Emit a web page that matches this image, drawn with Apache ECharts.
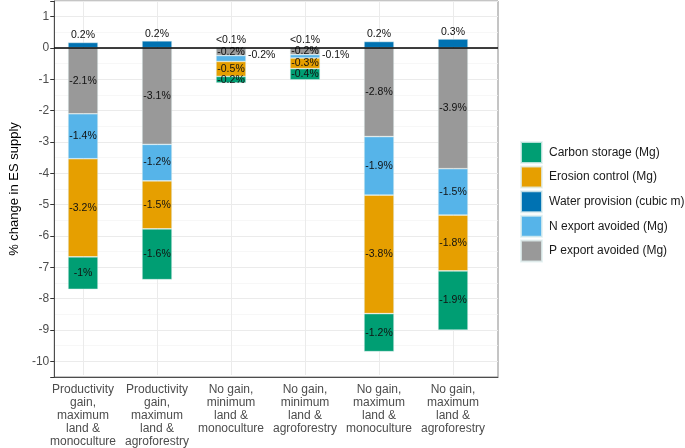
<!DOCTYPE html>
<html>
<head>
<meta charset="utf-8">
<script src="https://cdn.jsdelivr.net/npm/echarts@6/dist/echarts.min.js"></script>
<style>
html,body{margin:0;padding:0;background:#fff;}
#main{width:685px;height:448px;}
</style>
</head>
<body>
<div id="main"></div>
<script>
//scenarios
var categories = ['Productivity\ngain,\nmaximum\nland &\nmonoculture', 'Productivity\ngain,\nmaximum\nland &\nagroforestry',
	'No gain,\nminimum\nland &\nmonoculture', 'No gain,\nminimum\nland &\nagroforestry',
	'No gain,\nmaximum\nland &\nmonoculture', 'No gain,\nmaximum\nland &\nagroforestry'];

//% change per service
var pExport = [-2.12, -3.10, -0.25, -0.22, -2.85, -3.88];
var nExport = [-1.44, -1.17, -0.19, -0.11, -1.88, -1.49];
var erosion = [-3.15, -1.54, -0.48, -0.34, -3.80, -1.79];
var carbon = [-1.04, -1.63, -0.21, -0.36, -1.22, -1.90];
var water = [0.17, 0.22, 0.02, 0.02, 0.20, 0.28];

//printed labels
var pLabels = ['-2.1%', '-3.1%', '-0.2%', '-0.2%', '-2.8%', '-3.9%'];
var nLabels = ['-1.4%', '-1.2%', '-0.2%', '-0.1%', '-1.9%', '-1.5%'];
var eLabels = ['-3.2%', '-1.5%', '-0.5%', '-0.3%', '-3.8%', '-1.8%'];
var cLabels = ['-1%', '-1.6%', '-0.2%', '-0.4%', '-1.2%', '-1.9%'];
var wLabels = ['0.2%', '0.2%', '<0.1%', '<0.1%', '0.2%', '0.3%'];

var names = ['Carbon storage (Mg)', 'Erosion control (Mg)', 'Water provision (cubic m)', 'N export avoided (Mg)', 'P export avoided (Mg)'];

var yMin = -10.5, yMax = 1.5;

var chart = echarts.init(document.getElementById('main'));

function barSeries(name, values, labels, color, pos){
	return {
		name: name,
		type: 'bar',
		xAxisIndex: 1,
		yAxisIndex: 2,
		stack: 'es',
		barWidth: 30,
		itemStyle: {color: color, borderColor: 'rgba(225,240,240,0.8)', borderWidth: 0.6},
		label: {
			show: true,
			position: pos,
			distance: 1.5,
			fontSize: 10.5,
			color: '#111',
			fontFamily: 'Liberation Sans, Arial, sans-serif',
			formatter: function(p){ return labels[p.dataIndex]; }
		},
		data: values.slice()
	};
}

var nSeries = barSeries(names[3], nExport, nLabels, '#56B4E9', 'inside');
//small N segments labelled beside the bar
nSeries.data[2] = {value: nExport[2], label: {position: 'right', distance: 2, offset: [0, -3]}};
nSeries.data[3] = {value: nExport[3], label: {position: 'right', distance: 2, offset: [0, -1.5]}};

var option = {
	animation: false,
	textStyle: {fontFamily: 'Liberation Sans, Arial, sans-serif'},
	grid: [
		{left: 40, right: 187, top: 1, bottom: 71, show: true, borderColor: '#8a8a8a', borderWidth: 1},
		{left: 46, right: 195, top: 1, bottom: 71}
	],
	legend: {
		orient: 'vertical',
		left: 515,
		top: 136,
		itemWidth: 21,
		itemHeight: 21,
		itemGap: 1.6,
		icon: 'rect',
		data: names,
		textStyle: {fontSize: 12, color: '#1a1a1a', padding: [0, 0, 0, 2]}
	},
	xAxis: [
		{
			type: 'value', gridIndex: 0, min: 0, max: 1,
			axisLine: {show: true, onZero: false, lineStyle: {color: '#4d4d4d', width: 1}},
			axisTick: {show: false}, axisLabel: {show: false}, splitLine: {show: false}
		},
		{
			type: 'category', gridIndex: 1, data: categories,
			axisLine: {show: false},
			axisTick: {show: true, alignWithLabel: true, length: 4, lineStyle: {color: '#333'}},
			axisLabel: {interval: 0, fontSize: 12, lineHeight: 13, color: '#4d4d4d', margin: 8},
			splitLine: {show: true, alignWithLabel: true, lineStyle: {color: '#ebebeb', width: 1}}
		}
	],
	yAxis: [
		{
			//minor grid
			type: 'value', gridIndex: 0, position: 'left', min: yMin, max: yMax, interval: 0.5,
			axisLine: {show: false}, axisTick: {show: false}, axisLabel: {show: false},
			splitLine: {show: true, lineStyle: {color: '#f4f4f4', width: 0.7}}
		},
		{
			//major grid + labels
			type: 'value', gridIndex: 0, position: 'left', offset: 0,
			min: yMin, max: yMax, splitNumber: 12, minInterval: 1, maxInterval: 1,
			name: '% change in ES supply',
			nameLocation: 'middle',
			nameRotate: 90,
			nameGap: 26,
			nameTextStyle: {fontSize: 13, color: '#000'},
			axisLine: {show: true, onZero: false, lineStyle: {color: '#4d4d4d', width: 1}},
			axisTick: {show: true, length: 4, lineStyle: {color: '#333'}},
			axisLabel: {
				fontSize: 12, color: '#4d4d4d', margin: 5,
				formatter: function(v){ return Math.round(v) === v ? String(v) : ''; }
			},
			splitLine: {show: true, lineStyle: {color: '#ebebeb', width: 1}}
		},
		{
			type: 'value', gridIndex: 1, min: yMin, max: yMax, show: false
		}
	],
	series: [
		barSeries(names[4], pExport, pLabels, '#999999', 'inside'),
		nSeries,
		barSeries(names[1], erosion, eLabels, '#E69F00', 'inside'),
		barSeries(names[0], carbon, cLabels, '#009E73', 'inside'),
		barSeries(names[2], water, wLabels, '#0072B2', 'top'),
		{
			//zero line
			type: 'line',
			xAxisIndex: 0,
			yAxisIndex: 1,
			data: [[0, 0], [1, 0]],
			symbol: 'none',
			silent: true,
			z: 5,
			lineStyle: {color: '#000', width: 1.3}
		}
	]
};
chart.setOption(option);
</script>
</body>
</html>
